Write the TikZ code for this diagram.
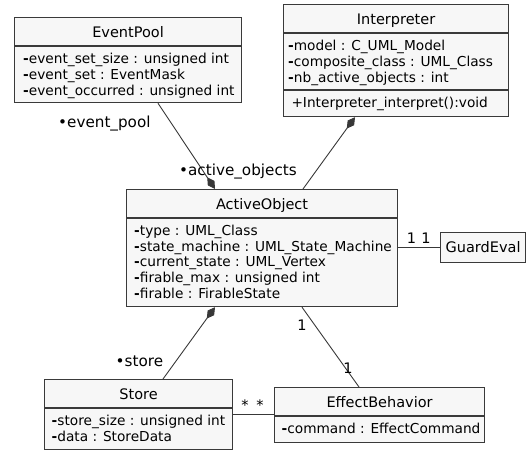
\documentclass[tikz,border=0pt]{standalone}
\usepackage{fontspec}
\setmainfont{DejaVu Sans}
\usetikzlibrary{arrows.meta,calc}
\definecolor{boxfill}{HTML}{F7F7F7}
\definecolor{boxline}{HTML}{3A3A3A}
\definecolor{linkline}{HTML}{383838}
\newcommand{\clsfont}{\fontsize{14.5}{17}\selectfont}
\newcommand{\attrfont}{\fontsize{13.7}{16}\selectfont}
\newcommand{\rolefont}{\fontsize{15.2}{18}\selectfont}
\tikzset{
	cls/.style={draw=boxline, fill=boxfill, line width=1.2pt, anchor=north west, inner sep=0pt},
	sepline/.style={draw=boxline, line width=1.2pt},
	ttl/.style={font=\clsfont, anchor=base, inner sep=0pt},
	attr/.style={font=\attrfont, anchor=base west, inner sep=0pt},
	role/.style={font=\rolefont, anchor=base west, inner sep=0pt},
	mult/.style={font=\clsfont, anchor=base, inner sep=0pt},
	link/.style={draw=linkline, line width=0.9pt},
	comp/.style={link, -{Diamond[length=14pt, width=8pt]}}
}
\begin{document}
\begin{tikzpicture}[x=1pt, y=-1pt]
	\useasboundingbox (0,0) rectangle (529,452);
	% classes
	\node[cls, minimum width=227pt, minimum height=85pt] (eventpool) at (14,17) {};
	\draw[sepline] ($(eventpool.north west)+(0,29)$) -- ($(eventpool.north east)+(0,29)$);
	\node[ttl] (eventpool-name) at ($(eventpool.north)+(0,20.3)$) {EventPool};
	\foreach \a [count=\i] in {event\_set\_size : unsigned int, event\_set : EventMask, event\_occurred : unsigned int}
		\node[attr] (eventpool-\i) at ($(eventpool.north west)+(9,46.5+15.8*\i-15.8)$) {\textbf{-}\a};

	\node[cls, minimum width=225pt, minimum height=112pt] (interpreter) at (283,4) {};
	\draw[sepline] ($(interpreter.north west)+(0,29)$) -- ($(interpreter.north east)+(0,29)$);
	\draw[sepline] ($(interpreter.north west)+(0,86)$) -- ($(interpreter.north east)+(0,86)$);
	\node[ttl] (interpreter-name) at ($(interpreter.north)+(0,20.3)$) {Interpreter};
	\foreach \a [count=\i] in {model : C\_UML\_Model, composite\_class : UML\_Class, nb\_active\_objects : int}
		\node[attr] (interpreter-\i) at ($(interpreter.north west)+(5,46.5+15.8*\i-15.8)$) {\textbf{-}\a};
	\node[attr] (interpreter-op) at ($(interpreter.north west)+(8.3,103.5)$) {+Interpreter\_interpret():void};

	\node[cls, minimum width=271pt, minimum height=117pt] (activeobject) at (126,189) {};
	\draw[sepline] ($(activeobject.north west)+(0,29)$) -- ($(activeobject.north east)+(0,29)$);
	\node[ttl] (activeobject-name) at ($(activeobject.north)+(0,20.3)$) {ActiveObject};
	\foreach \a [count=\i] in {type : UML\_Class, state\_machine : UML\_State\_Machine, current\_state : UML\_Vertex, firable\_max : unsigned int, firable : FirableState}
		\node[attr] (activeobject-\i) at ($(activeobject.north west)+(8,46.5+15.7*\i-15.7)$) {\textbf{-}\a};

	\node[cls, minimum width=85pt, minimum height=30pt] (guardeval) at (440,232) {};
	\node[ttl] (guardeval-name) at ($(guardeval.north)+(0,20.5)$) {GuardEval};

	\node[cls, minimum width=188pt, minimum height=70pt] (store) at (44,379) {};
	\draw[sepline] ($(store.north west)+(0,29)$) -- ($(store.north east)+(0,29)$);
	\node[ttl] (store-name) at ($(store.north)+(0,20.3)$) {Store};
	\foreach \a [count=\i] in {store\_size : unsigned int, data : StoreData}
		\node[attr] (store-\i) at ($(store.north west)+(7.5,46.5+15.7*\i-15.7)$) {\textbf{-}\a};

	\node[cls, minimum width=210pt, minimum height=55pt] (effectbehavior) at (274,387) {};
	\draw[sepline] ($(effectbehavior.north west)+(0,29)$) -- ($(effectbehavior.north east)+(0,29)$);
	\node[ttl] (effectbehavior-name) at ($(effectbehavior.north)+(0,20.3)$) {EffectBehavior};
	\node[attr] (effectbehavior-1) at ($(effectbehavior.north west)+(7.5,46.5)$) {\textbf{-}command : EffectCommand};

	% links
	\draw[comp] ($(eventpool.south west)+(144,0)$) -- ($(activeobject.north west)+(89,0)$);
	\draw[comp] ($(activeobject.north west)+(177,0)$) -- ($(interpreter.south west)+(72,0)$);
	\draw[comp] ($(store.north west)+(119,0)$) -- ($(activeobject.south west)+(89,0)$);
	\draw[link] ($(activeobject.south west)+(176,0)$) -- ($(effectbehavior.north west)+(85,0)$);
	\draw[link] (activeobject.east |- guardeval.west) -- (guardeval.west);
	\draw[link] (store.east) -- (store.east -| effectbehavior.west);

	% roles and multiplicities
	\node[role] (role-pool) at (58,127.5) {•event\_pool};
	\node[role] (role-active) at (179,175.7) {•active\_objects};
	\node[role] (role-store) at (115.5,366) {•store};
	\node[mult] (mult-ao-eb) at (302,330.3) {1};
	\node[mult] (mult-eb-ao) at (348,373.3) {1};
	\node[mult] (mult-ao-ge) at (411.5,243.3) {1};
	\node[mult] (mult-ge-ao) at (426,243.3) {1};
	\node[mult] (mult-st-eb) at (245,410.5) {*};
	\node[mult] (mult-eb-st) at (260,410.5) {*};
\end{tikzpicture}
\end{document}
